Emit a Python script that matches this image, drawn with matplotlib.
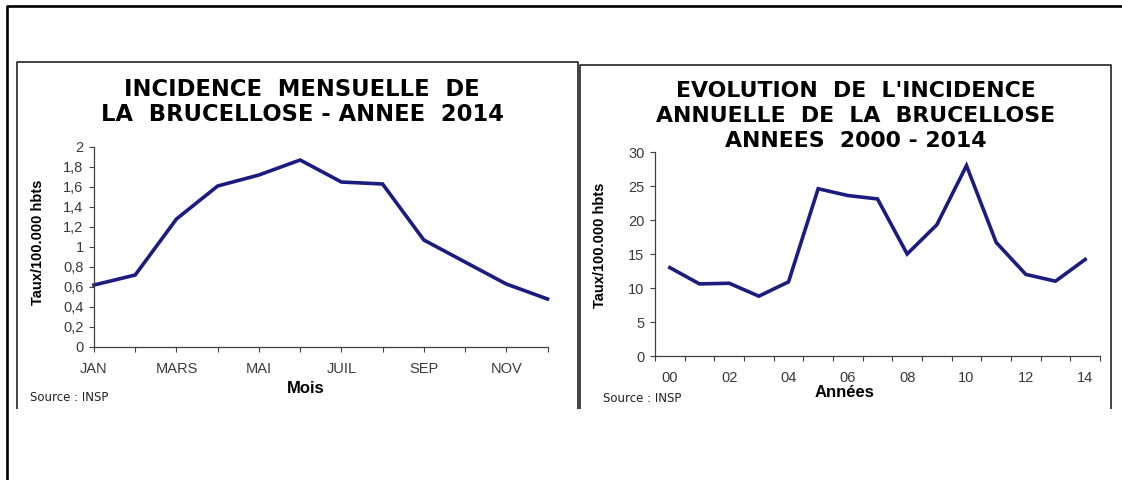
"""ブルセラ症の発生率グラフ(月別 2014年 / 年別 2000-2014年)を描画するスクリプト.
出力: out.png (1122x480)
"""
import matplotlib
matplotlib.use('Agg')
import matplotlib.pyplot as plt
from matplotlib.lines import Line2D
import numpy as np

# 月別データ (2014年, 10万人あたり)
MONTHS = ["JAN", "FEV", "MARS", "AVR", "MAI", "JUIN",
          "JUIL", "AOUT", "SEP", "OCT", "NOV", "DEC"]
MONTHLY_RATE = [0.62, 0.72, 1.28, 1.61, 1.72, 1.87,
                1.65, 1.63, 1.07, 0.85, 0.63, 0.48]
MONTHLY_YTICKS = [0, 0.2, 0.4, 0.6, 0.8, 1, 1.2, 1.4, 1.6, 1.8, 2]

# 年別データ (2000-2014年, 10万人あたり)
YEARS = list(range(2000, 2015))
ANNUAL_RATE = [13.0, 10.6, 10.7, 8.8, 10.9, 24.6, 23.6, 23.1,
               15.0, 19.3, 28.0, 16.7, 12.0, 11.0, 14.2]
ANNUAL_YTICKS = [0, 5, 10, 15, 20, 25, 30]

# タイトル・ラベル
MONTHLY_TITLE = ["INCIDENCE  MENSUELLE  DE",
                 "LA  BRUCELLOSE - ANNEE  2014"]
ANNUAL_TITLE = ["EVOLUTION  DE  L'INCIDENCE",
                "ANNUELLE  DE  LA  BRUCELLOSE",
                "ANNEES  2000 - 2014"]
Y_LABEL = "Taux/100.000 hbts"
SOURCE = "Source : INSP"

LINE_COLOR = '#1c1c80'
FRAME_COLOR = '#222222'
TICK_COLOR = '#3a3a3a'
TITLE_FONT = 'DejaVu Sans'
LABEL_FONT = 'Liberation Sans'

plt.rcParams['font.family'] = [LABEL_FONT, 'DejaVu Sans']


class BrucellosePlot:
    """2つの折れ線グラフを1枚の画像に並べるクラス."""

    def __init__(self, width=1122, height=480, dpi=100) -> None:
        self.width = width
        self.height = height
        self.fig = plt.figure(figsize=(width / dpi, height / dpi), dpi=dpi)
        self.fig.patch.set_facecolor('white')

    def fx(self, x):
        """ピクセル座標(x) -> figure座標."""
        return x / self.width

    def fy(self, y):
        """ピクセル座標(y, 上から) -> figure座標."""
        return 1 - y / self.height

    def add_axes_px(self, left, top, right, bottom):
        rect = [self.fx(left), self.fy(bottom),
                (right - left) / self.width, (bottom - top) / self.height]
        return self.fig.add_axes(rect)

    def frame_line(self, xs, ys, lw=1.2, color=FRAME_COLOR):
        """枠線をピクセル座標で描く."""
        line = Line2D([self.fx(x) for x in xs], [self.fy(y) for y in ys],
                      transform=self.fig.transFigure, lw=lw, color=color,
                      solid_capstyle='butt')
        self.fig.add_artist(line)

    def style_axes(self, ax, xpad):
        ax.set_facecolor('none')
        for side in ['top', 'right']:
            ax.spines[side].set_visible(False)
        for side in ['left', 'bottom']:
            ax.spines[side].set_color('#404040')
            ax.spines[side].set_linewidth(0.9)
        ax.tick_params(axis='both', which='both', direction='out',
                       length=3.5, width=0.8, color='#404040',
                       labelcolor=TICK_COLOR, labelsize=10.5)
        ax.tick_params(axis='x', which='both', pad=xpad)
        ax.tick_params(axis='y', pad=4)

    def title(self, lines, cx, baselines, size):
        for text, y in zip(lines, baselines):
            self.fig.text(self.fx(cx), self.fy(y), text, ha='center',
                          va='baseline', fontsize=size, fontweight='bold',
                          family=TITLE_FONT, color='black')

    def labels(self, ylabel_xy, xlabel, xlabel_xy, source_xy):
        self.fig.text(self.fx(ylabel_xy[0]), self.fy(ylabel_xy[1]), Y_LABEL,
                      rotation=90, ha='center', va='center', fontsize=10.5,
                      fontweight='bold')
        self.fig.text(self.fx(xlabel_xy[0]), self.fy(xlabel_xy[1]), xlabel,
                      ha='center', va='baseline', fontsize=12,
                      fontweight='bold')
        self.fig.text(self.fx(source_xy[0]), self.fy(source_xy[1]), SOURCE,
                      ha='left', va='baseline', fontsize=8.5,
                      family='DejaVu Sans', color='#222222')

    def draw_monthly(self):
        """月別発生率 (2014年)."""
        ax = self.add_axes_px(94, 147, 547.5, 347)
        x = np.arange(len(MONTHS))
        ax.plot(x, MONTHLY_RATE, color=LINE_COLOR, lw=2.6,
                solid_joinstyle='miter', clip_on=False)
        ax.set_xlim(0, len(MONTHS) - 1)
        ax.set_ylim(0, 2)
        ax.set_xticks(x)
        ax.set_xticklabels([m if i % 2 == 0 else "" for i, m in enumerate(MONTHS)])
        ax.set_yticks(MONTHLY_YTICKS)
        ax.set_yticklabels([f"{v:g}".replace(".", ",") for v in MONTHLY_YTICKS])
        self.style_axes(ax, xpad=7)

        self.title(MONTHLY_TITLE, 302, [96, 121], 16.3)
        self.labels((38, 242), "Mois", (306, 393), (30, 401))

    def draw_annual(self):
        """年別発生率 (2000-2014年)."""
        ax = self.add_axes_px(655, 152, 1100, 356)
        x = np.arange(len(YEARS))
        ax.plot(x, ANNUAL_RATE, color=LINE_COLOR, lw=2.6,
                solid_joinstyle='miter')
        ax.set_xlim(-0.5, len(YEARS) - 0.5)
        ax.set_ylim(0, 30)
        # 目盛り線は区間の境界, ラベルは区間の中央
        ax.set_xticks(np.arange(-0.5, len(YEARS)))
        ax.set_xticklabels([])
        ax.set_xticks(x[::2], minor=True)
        ax.set_xticklabels([f"{y % 100:02d}" for y in YEARS[::2]], minor=True)
        ax.set_yticks(ANNUAL_YTICKS)
        self.style_axes(ax, xpad=10)
        ax.tick_params(axis='x', which='minor', length=0, pad=11)

        self.title(ANNUAL_TITLE, 856, [97, 122, 147], 15.8)
        self.labels((600, 245), "Années", (845, 397), (603, 402))

    def draw_frames(self):
        """外枠と各パネルの枠."""
        # 外枠 (上と左)
        self.frame_line([7, 7, 1122], [480, 6, 6], lw=1.9, color='black')
        # 左パネル
        self.frame_line([16.5, 16.5, 578, 578], [409, 62, 62, 409])
        # 右パネル
        self.frame_line([580, 580, 1111, 1111], [409, 64.5, 64.5, 409])

    def save(self, path):
        self.fig.savefig(path, dpi=100, facecolor='white')


if __name__ == "__main__":
    bp = BrucellosePlot()
    bp.draw_frames()
    bp.draw_monthly()
    bp.draw_annual()
    bp.save("out.png")
